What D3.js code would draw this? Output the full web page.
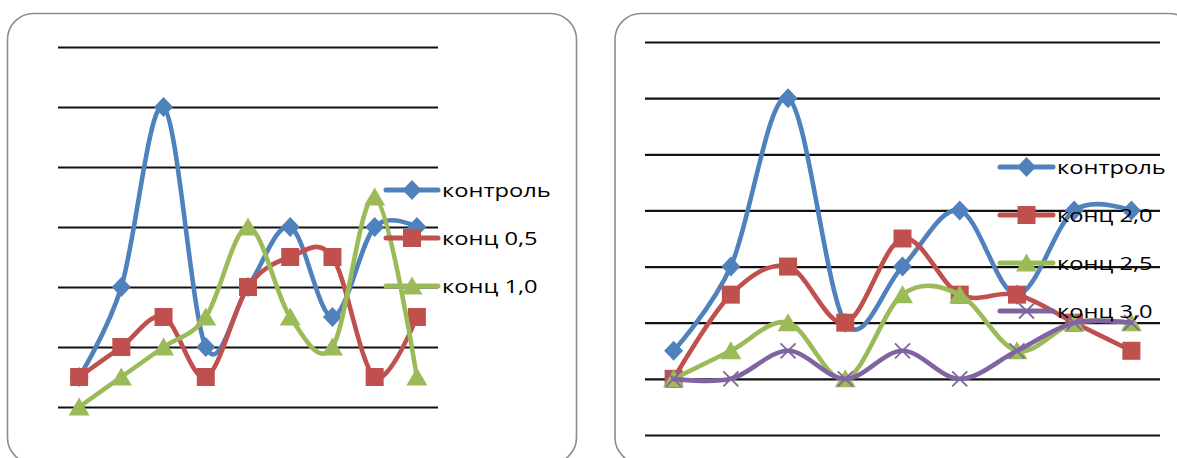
<!DOCTYPE html>
<html>
<head>
<meta charset="utf-8">
<script src="https://cdn.jsdelivr.net/npm/d3@7"></script>
<style>
  html, body { margin: 0; padding: 0; background: #fff; }
  svg { display: block; }
  .legend text { font-family: "Open Sans", "Liberation Sans", sans-serif; }
</style>
</head>
<body>
<svg id="chart" width="1177" height="458"></svg>
<script>
// Nine sampling points along the horizontal category axis (unlabelled)
const categories = ["1", "2", "3", "4", "5", "6", "7", "8", "9"];

// Left chart: control vs. concentrations 0,5 and 1,0
const leftNames = ["контроль", "конц 0,5", "конц 1,0"];
const leftControl = [0.5, 2, 5, 1, 2, 3, 1.5, 3, 3];
const leftConc05  = [0.5, 1, 1.5, 0.5, 2, 2.5, 2.5, 0.5, 1.5];
const leftConc10  = [0, 0.5, 1, 1.5, 3, 1.5, 1, 3.5, 0.5];
const leftGrid = [0, 1, 2, 3, 4, 5, 6];

// Right chart: control vs. concentrations 2,0, 2,5 and 3,0
const rightNames = ["контроль", "конц 2,0", "конц 2,5", "конц 3,0"];
const rightControl = [1.5, 3, 6, 2, 3, 4, 2.5, 4, 4];
const rightConc20  = [1, 2.5, 3, 2, 3.5, 2.5, 2.5, 2, 1.5];
const rightConc25  = [1, 1.5, 2, 1, 2.5, 2.5, 1.5, 2, 2];
const rightConc30  = [1, 1, 1.5, 1, 1.5, 1, 1.5, 2, 2];
const rightGrid = [0, 1, 2, 3, 4, 5, 6, 7];

const colors = ["#4F81BD", "#C0504D", "#9BBB59", "#8064A2"];
const markers = ["diamond", "square", "triangle", "x"];

const svg = d3.select("#chart");

function markerPath(kind) {
  switch (kind) {
    case "diamond": return "M0,-10L9.5,0L0,10L-9.5,0Z";
    case "square": return "M-9,-9H9V9H-9Z";
    case "triangle": return "M0,-9.5L10.5,8.5H-10.5Z";
    default: return "M-7.5,-7.5L7.5,7.5M7.5,-7.5L-7.5,7.5";
  }
}

function drawMarker(g, kind, color, x, y) {
  const p = g.append("path")
    .attr("d", markerPath(kind))
    .attr("transform", `translate(${x},${y})`);
  if (kind === "x") {
    p.attr("fill", "none").attr("stroke", color).attr("stroke-width", 1.8);
  } else {
    p.attr("fill", color);
  }
}

function drawPanel(opts) {
  const { frame, plot, grid, names, series, legend } = opts;

  // rounded frame
  svg.append("rect")
    .attr("x", frame.x).attr("y", frame.y)
    .attr("width", frame.w).attr("height", frame.h)
    .attr("rx", 26).attr("ry", 26)
    .attr("fill", "#fff")
    .attr("stroke", "#8c8c8c").attr("stroke-width", 1.6);

  const x = d3.scaleBand().domain(categories).range([plot.x0, plot.x1]);
  const y = d3.scaleLinear().domain([grid[0], grid[grid.length - 1]]).range([plot.y0, plot.y1]);

  // horizontal gridlines
  const gAxis = svg.append("g")
    .attr("transform", `translate(${plot.x0},0)`)
    .call(d3.axisLeft(y).tickValues(grid).tickSize(-(plot.x1 - plot.x0)).tickFormat(""));
  gAxis.select(".domain").remove();
  gAxis.selectAll(".tick line").attr("stroke", "#111").attr("stroke-width", 2.2);

  const line = d3.line()
    .x((d, i) => x(categories[i]) + x.bandwidth() / 2)
    .y(d => y(d))
    .curve(d3.curveCardinal.tension(0));

  const gSeries = svg.append("g");
  series.forEach((vals, k) => {
    const g = gSeries.append("g");
    g.append("path")
      .attr("d", line(vals))
      .attr("fill", "none")
      .attr("stroke", colors[k])
      .attr("stroke-width", 4.6)
      .attr("stroke-linecap", "round");
    vals.forEach((v, i) => drawMarker(g, markers[k], colors[k], x(categories[i]) + x.bandwidth() / 2, y(v)));
  });

  // legend on the right side of the plot
  const gLeg = svg.append("g").attr("class", "legend");
  names.forEach((name, k) => {
    const ly = legend.y0 + k * legend.step;
    const item = gLeg.append("g");
    item.append("line")
      .attr("x1", legend.x).attr("x2", legend.x + legend.len)
      .attr("y1", ly).attr("y2", ly)
      .attr("stroke", colors[k]).attr("stroke-width", 5).attr("stroke-linecap", "round");
    drawMarker(item, markers[k], colors[k], legend.x + legend.len / 2, ly);
    item.append("text")
      .attr("transform", `translate(${legend.x + legend.len + 4},${ly}) scale(1.28,1)`)
      .attr("dy", "0.36em")
      .attr("font-size", legend.font)
      .attr("fill", "#000")
      .text(name);
  });
}

drawPanel({
  frame: { x: 7.5, y: 13.5, w: 569, h: 450 },
  plot: { x0: 58, x1: 438, y0: 407, y1: 47 },
  grid: leftGrid,
  names: leftNames,
  series: [leftControl, leftConc05, leftConc10],
  legend: { x: 386, len: 52, y0: 190, step: 48, font: 18.5 }
});

drawPanel({
  frame: { x: 615, y: 13.5, w: 580, h: 450 },
  plot: { x0: 645, x1: 1160, y0: 435, y1: 42 },
  grid: rightGrid,
  names: rightNames,
  series: [rightControl, rightConc20, rightConc25, rightConc30],
  legend: { x: 1000, len: 53, y0: 167, step: 48, font: 18.5 }
});
</script>
</body>
</html>
